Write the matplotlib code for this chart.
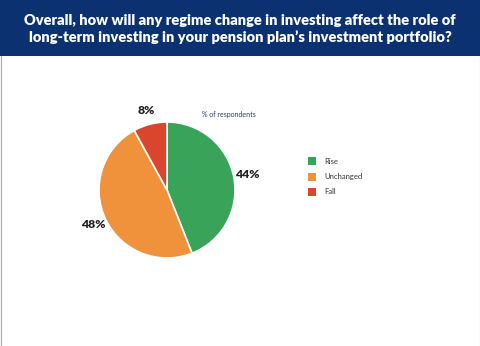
import matplotlib.pyplot as plt
from matplotlib.patches import Rectangle
from matplotlib.lines import Line2D

# survey answers
categories = ['Rise', 'Unchanged', 'Fall']
shares = [44, 48, 8]
colors = ['#39a35a', '#f0913b', '#da452d']

title = ("Overall, how will any regime change in investing affect the role of\n"
         "long-term investing in your pension plan\u2019s investment portfolio?")

plt.rcParams['font.family'] = ['Lato', 'DejaVu Sans']

fig = plt.figure(figsize=(4.8, 3.46), dpi=100)
fig.patch.set_facecolor('white')

# header banner
fig.patches.append(Rectangle((0, 1 - 56 / 346), 1, 56 / 346, transform=fig.transFigure,
                             facecolor='#0b3170', edgecolor='none', zorder=0))
fig.text(0.5, 1 - 29 / 346, title, color='white', fontsize=10.5, fontweight='heavy',
         ha='center', va='center', linespacing=1.25)

# thin grey edges left and right
for x in (0.5 / 480, 1 - 0.5 / 480):
    fig.lines.append(Line2D([x, x], [0, 1 - 56 / 346], transform=fig.transFigure,
                            color='#a4a9b0', linewidth=0.8))

ax = fig.add_axes([99 / 480, 88 / 346, 136 / 480, 136 / 346])
wedges, texts = ax.pie(shares, colors=colors, startangle=90, counterclock=False,
                       labels=[f'{v}%' for v in shares], labeldistance=1.2,
                       wedgeprops=dict(edgecolor='white', linewidth=1.2),
                       textprops=dict(fontsize=8.8, fontweight='heavy', color='#222222'))
for t in texts:
    t.set_ha('center')
    t.set_clip_on(False)
ax.set_xlim(-1, 1)
ax.set_ylim(-1, 1)
ax.set_aspect('equal')
ax.axis('off')

fig.text(229 / 480, 1 - 115 / 346, '% of respondents', fontsize=5, color='#2a3a6a',
         ha='center', va='center')

# legend
for i, (name, c) in enumerate(zip(categories, colors)):
    y = 1 - (161 + i * 15.5) / 346
    fig.patches.append(Rectangle((308 / 480, y - 4 / 346), 8 / 480, 8 / 346,
                                 transform=fig.transFigure, facecolor=c, edgecolor='none'))
    fig.text(324 / 480, y, name, fontsize=5.5, color='#333333', ha='left', va='center')

fig.savefig('out.png', dpi=100)
